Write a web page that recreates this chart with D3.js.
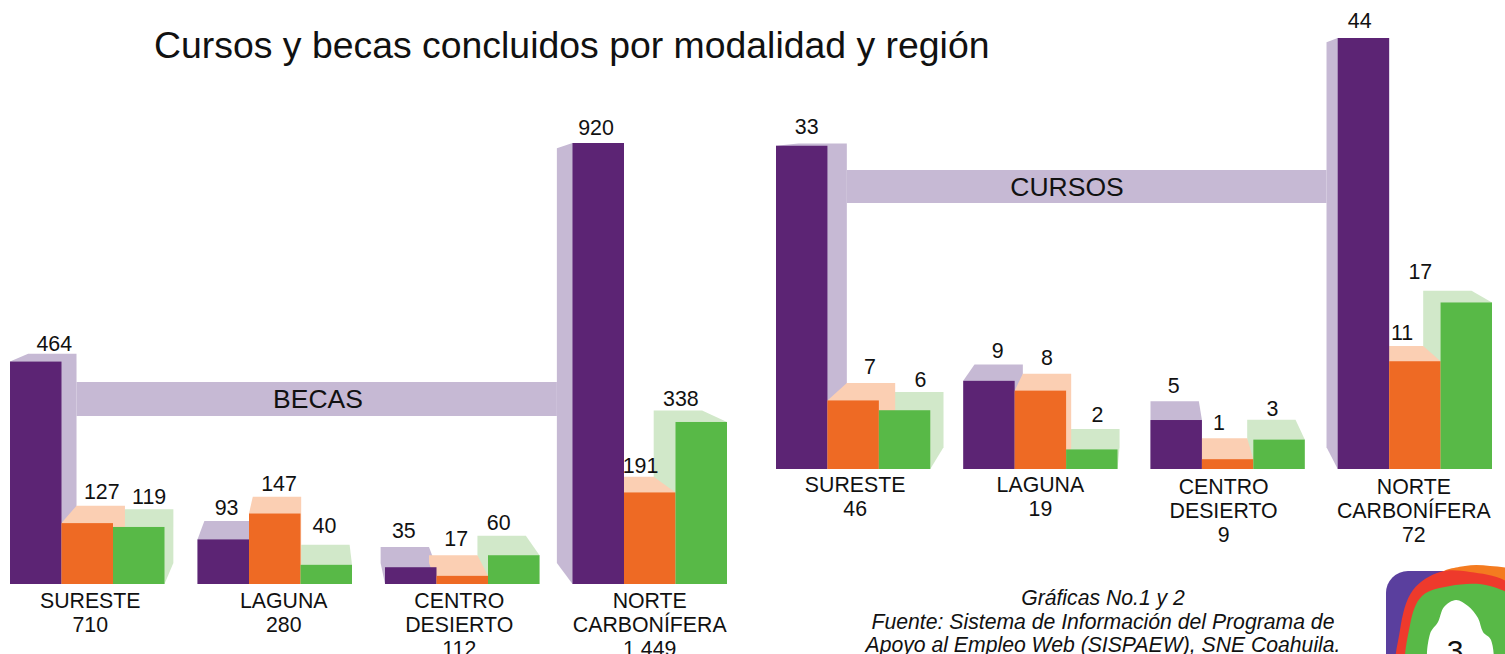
<!DOCTYPE html>
<html lang="es">
<head>
<meta charset="utf-8">
<title>Cursos y becas concluidos por modalidad y región</title>
<script src="https://cdn.jsdelivr.net/npm/d3@7"></script>
<style>
  html, body { margin: 0; padding: 0; background: #fff; overflow: hidden; }
  svg { display: block; }
  text { font-family: "Liberation Sans", Arial, sans-serif; fill: #111; }
</style>
</head>
<body>
<div id="chart"></div>
<script>
// Datos
const categorias = ["SURESTE", "LAGUNA", "CENTRO DESIERTO", "NORTE CARBONÍFERA"];
const series = ["morado", "naranja", "verde"];

const becasMorado = [464, 93, 35, 920];
const becasNaranja = [127, 147, 17, 191];
const becasVerde = [119, 40, 60, 338];
const becasTotal = ["710", "280", "112", "1 449"];

const cursosMorado = [33, 9, 5, 44];
const cursosNaranja = [7, 8, 1, 11];
const cursosVerde = [6, 2, 3, 17];
const cursosTotal = ["46", "19", "9", "72"];

const lineasCategoria = [["SURESTE"], ["LAGUNA"], ["CENTRO", "DESIERTO"], ["NORTE", "CARBONÍFERA"]];
const notaFuente = [
  "Gráficas No.1 y 2",
  "Fuente: Sistema de Información del Programa de",
  "Apoyo al Empleo Web (SISPAEW), SNE Coahuila."
];

// Mides
const width = 1505, height = 654;
const colorFrente = { morado: "#5c2474", naranja: "#ee6a24", verde: "#58b947" };
const colorFondo = { morado: "#c6b9d4", naranja: "#fbcfb3", verde: "#d1e8c9" };
const profundidad = 0.06;   // how far the back face shrinks to the vanishing point

const svg = d3.select("#chart")
  .append("svg")
  .attr("width", width)
  .attr("height", height)
  .attr("viewBox", `0 0 ${width} ${height}`);

svg.append("text")
  .attr("x", 154)
  .attr("y", 58)
  .attr("font-size", 37.4)
  .text("Cursos y becas concluidos por modalidad y región");

function drawPanel(cfg) {
  const x0 = d3.scaleBand()
    .domain(categorias)
    .range(cfg.rangeX)
    .paddingInner(0.176);

  const x1 = d3.scaleBand()
    .domain(series)
    .range([0, x0.bandwidth()]);

  const y = d3.scaleLinear()
    .domain(cfg.domainY)
    .range(cfg.rangeY);

  const atras = (px, py) => [
    px + profundidad * (cfg.fuga[0] - px),
    py + profundidad * (cfg.fuga[1] - py)
  ];

  const bars = [];
  categorias.forEach((c, i) => {
    series.forEach(s => {
      const value = cfg.valores[s][i];
      const left = x0(c) + x1(s), right = left + x1.bandwidth();
      bars.push({ c, i, s, value, left, right, top: y(value), base: y(0) });
    });
  });

  const g = svg.append("g");

  // Back faces go first: purple, green, orange, so orange stays on top
  const hullOrder = ["morado", "verde", "naranja"];
  const hullBars = d3.sort(bars, d => hullOrder.indexOf(d.s));
  g.selectAll("path.fondo")
    .data(hullBars)
    .join("path")
    .attr("class", "fondo")
    .attr("fill", d => colorFondo[d.s])
    .attr("d", d => {
      const corners = [[d.left, d.top], [d.right, d.top], [d.right, d.base], [d.left, d.base]];
      const hull = d3.polygonHull(corners.concat(corners.map(p => atras(p[0], p[1]))));
      return d3.line()(hull) + "Z";
    });

  // Band joining the two tall bars
  const first = bars.find(d => d.c === categorias[0] && d.s === "morado");
  const last = bars.find(d => d.c === categorias[3] && d.s === "morado");
  const bandLeft = atras(first.right, first.top)[0];
  const bandRight = atras(last.left, last.top)[0];
  g.append("rect")
    .attr("x", bandLeft)
    .attr("y", cfg.banda[0])
    .attr("width", bandRight - bandLeft)
    .attr("height", cfg.banda[1] - cfg.banda[0])
    .attr("fill", colorFondo.morado);

  g.append("text")
    .attr("x", cfg.rotulo[1])
    .attr("y", cfg.rotulo[2])
    .attr("text-anchor", "middle")
    .attr("font-size", 26.5)
    .text(cfg.rotulo[0]);

  g.selectAll("rect.frente")
    .data(bars)
    .join("rect")
    .attr("class", "frente")
    .attr("x", d => d.left)
    .attr("y", d => d.top)
    .attr("width", d => d.right - d.left)
    .attr("height", d => d.base - d.top)
    .attr("fill", d => colorFrente[d.s]);

  // Etiquetes de valor, centred over the back face and then nudged by hand
  g.selectAll("text.valor")
    .data(bars)
    .join("text")
    .attr("class", "valor")
    .attr("text-anchor", "middle")
    .attr("font-size", 21.4)
    .attr("x", (d, i) => (atras(d.left, d.top)[0] + atras(d.right, d.top)[0]) / 2 + cfg.ajusteValor[i][0])
    .attr("y", (d, i) => Math.min(d.top, atras(d.left, d.top)[1]) - 7 + cfg.ajusteValor[i][1])
    .text(d => d.value);

  // Eix: only the tick labels are visible
  const axis = g.append("g")
    .attr("transform", `translate(0, ${y(0)})`)
    .call(d3.axisBottom(x0).tickSize(0).tickPadding(0));
  axis.select(".domain").remove();
  axis.selectAll(".tick text").remove();
  axis.selectAll(".tick").each(function (c, i) {
    const lines = lineasCategoria[i].concat(cfg.totales[i]);
    d3.select(this).append("text")
      .attr("text-anchor", "middle")
      .attr("font-size", 21.3)
      .selectAll("tspan")
      .data(lines)
      .join("tspan")
      .attr("x", cfg.ajusteEje[i][0])
      .attr("y", (l, j) => cfg.ajusteEje[i][1] + j * 24)
      .text(l => l);
  });
}

drawPanel({
  rangeX: [10, 727],
  domainY: [0, 920],
  rangeY: [584, 143],
  fuga: [312, 232],
  banda: [382, 416],
  rotulo: ["BECAS", 318, 408],
  valores: { morado: becasMorado, naranja: becasNaranja, verde: becasVerde },
  totales: becasTotal,
  ajusteValor: [[2, 4], [1, 0], [0, 2], [-2, 1], [2, 1], [-1, -5], [-1, -2], [3, -2], [-3, 1], [15, -1], [11, 3], [3, 2]],
  ajusteEje: [[3, 24], [9, 24], [-3, 24], [0, 24]]
});

drawPanel({
  rangeX: [776, 1492],
  domainY: [0, 44],
  rangeY: [469, 38],
  fuga: [1151, 108],
  banda: [170, 203],
  rotulo: ["CURSOS", 1067, 196],
  valores: { morado: cursosMorado, naranja: cursosNaranja, verde: cursosVerde },
  totales: cursosTotal,
  ajusteValor: [[-16, -2], [-1, -2], [1, 2], [-1, 1], [0, -2], [2, 0], [-1, -1], [-4, -1], [1, 3], [9, -3], [3, 1], [-27, -5]],
  ajusteEje: [[2, 23], [0, 23], [-4, 25], [-1, 25]]
});

// Nota de la font
svg.append("g")
  .selectAll("text")
  .data(notaFuente)
  .join("text")
  .attr("x", 1103)
  .attr("y", (d, i) => 605 + i * 23.5)
  .attr("text-anchor", "middle")
  .attr("font-size", 21.2)
  .attr("font-style", "italic")
  .text(d => d);

// Logo in the corner
const curva = d3.line().curve(d3.curveCatmullRomClosed);
const logo = svg.append("g");
logo.append("rect").attr("x", 1386).attr("y", 571).attr("width", 80).attr("height", 140).attr("rx", 22).attr("fill", "#5a3f9e");
logo.append("path").attr("fill", "#f47b20")
  .attr("d", curva([[1440, 575], [1465, 566], [1490, 566], [1515, 572], [1530, 620], [1470, 620]]));
logo.append("path").attr("fill", "#ee3a2c")
  .attr("d", curva([[1400, 690], [1400, 630], [1413, 590], [1440, 572], [1470, 572], [1510, 584], [1540, 640], [1500, 720]]));
logo.append("path").attr("fill", "#58b947")
  .attr("d", curva([[1410, 690], [1410, 625], [1422, 596], [1450, 586], [1490, 586], [1530, 610], [1540, 680], [1490, 720]]));
logo.append("path").attr("fill", "#fff")
  .attr("d", curva([[1431, 670], [1430, 634], [1438, 622], [1444, 607], [1456, 600], [1468, 606], [1478, 618], [1483, 632], [1491, 640], [1490, 670]]));
logo.append("text")
  .attr("x", 1455)
  .attr("y", 661)
  .attr("text-anchor", "middle")
  .attr("font-size", 30)
  .text("3");
</script>
</body>
</html>
